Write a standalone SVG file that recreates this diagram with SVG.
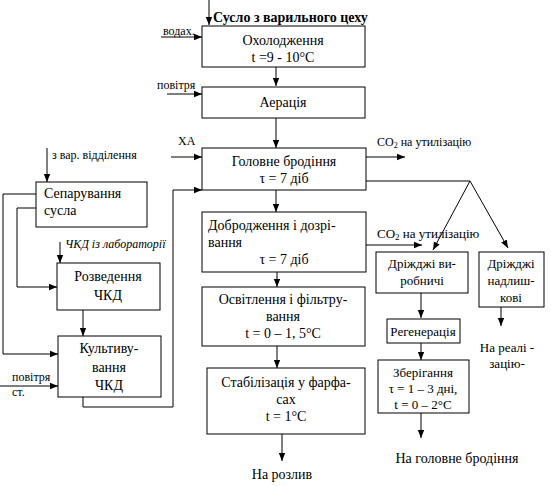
<svg xmlns="http://www.w3.org/2000/svg" width="551" height="486" viewBox="0 0 551 486">
<style>
.box{fill:#fff;stroke:#000;stroke-width:1}
.ln{fill:none;stroke:#000;stroke-width:1}
text{font-family:'Liberation Serif',serif;fill:#000}
.t{font-size:14px;text-anchor:middle}
.tl{font-size:14px}
.s{font-size:12px}
.m{font-size:13px;text-anchor:middle}
</style>
<defs>
<marker id="ah" viewBox="0 0 10 10" refX="10" refY="5" markerWidth="8" markerHeight="8" markerUnits="userSpaceOnUse" orient="auto">
<path d="M0,1 L10,5 L0,9 Z" fill="#000"/>
</marker>
</defs>
<rect width="551" height="486" fill="#fff"/>

<g id="connectors" class="ln">
<path d="M209,0 V25" marker-end="url(#ah)"/>
<path d="M161,37 H202" marker-end="url(#ah)"/>
<path d="M276,67 V86" marker-end="url(#ah)"/>
<path d="M167,94 H202" marker-end="url(#ah)"/>
<path d="M276,118 V148" marker-end="url(#ah)"/>
<path d="M171,157 H202" marker-end="url(#ah)"/>
<path d="M276,190 V212" marker-end="url(#ah)"/>
<path d="M277,272 V287" marker-end="url(#ah)"/>
<path d="M277,346 V368" marker-end="url(#ah)"/>
<path d="M282,434 V461" marker-end="url(#ah)"/>
<path d="M366,157 H405" marker-end="url(#ah)"/>
<path d="M366,181 H470"/>
<path d="M470,181 L433,250" marker-end="url(#ah)"/>
<path d="M470,181 L508,248" marker-end="url(#ah)"/>
<path d="M366,245 H422" marker-end="url(#ah)"/>
<path d="M421,293 V318" marker-end="url(#ah)"/>
<path d="M421,343 V360" marker-end="url(#ah)"/>
<path d="M421,413 V438" marker-end="url(#ah)"/>
<path d="M501,307 V326" marker-end="url(#ah)"/>
<path d="M47,148 V182" marker-end="url(#ah)"/>
<path d="M36,194 H3 V354 H58" marker-end="url(#ah)"/>
<path d="M36,208 H17 V287 H57" marker-end="url(#ah)"/>
<path d="M60,242 V263" marker-end="url(#ah)"/>
<path d="M83,310 V336" marker-end="url(#ah)"/>
<path d="M0,386 H58" marker-end="url(#ah)"/>
<path d="M83,397 V407 H173 V190 H202" marker-end="url(#ah)"/>
</g>

<g id="labels">
<text x="213" y="22" style="font-size:14px;font-weight:bold">Сусло з варильного цеху</text>
<text x="163" y="35" class="s">водах.</text>
<text x="157" y="89" class="s">повітря</text>
<text x="178" y="145" class="s">ХА</text>
<text x="377" y="146" class="s">CO<tspan font-size="8" dy="2">2</tspan><tspan dy="-2"> на утилізацію</tspan></text>
<text x="377" y="238" style="font-size:13px">CO<tspan font-size="9" dy="2">2</tspan><tspan dy="-2"> на утилізацію</tspan></text>
<text x="52" y="159" class="s">з вар. відділення</text>
<text x="65" y="248" class="s" font-style="italic">ЧКД із лабораторії</text>
<text x="12" y="381" class="s">повітря</text>
<text x="12" y="396" class="s">ст.</text>
<text x="282" y="479" class="t">На розлив</text>
<text x="457" y="463" class="t">На головне бродіння</text>
<text x="507" y="352" class="m">На реалі -</text>
<text x="507" y="368" class="m">зацію-</text>
</g>

<g id="n-cooling">
<rect class="box" x="202" y="26" width="163" height="41"/>
<text class="t" x="283" y="45">Охолодження</text>
<text class="t" x="283" y="62">t =9 - 10°C</text>
</g>
<g id="n-aeration">
<rect class="box" x="202" y="87" width="163" height="31"/>
<text class="t" x="283" y="107">Аерація</text>
</g>
<g id="n-main">
<rect class="box" x="202" y="148" width="164" height="42"/>
<text class="t" x="284" y="166">Головне бродіння</text>
<text class="t" x="284" y="183">τ = 7 діб</text>
</g>
<g id="n-after">
<rect class="box" x="202" y="212" width="164" height="60"/>
<text class="tl" x="208" y="230">Добродження і дозрі-</text>
<text class="tl" x="208" y="247">вання</text>
<text class="t" x="284" y="264">τ = 7 діб</text>
</g>
<g id="n-clarify">
<rect class="box" x="202" y="287" width="163" height="59"/>
<text class="t" x="283" y="304">Освітлення і фільтру-</text>
<text class="t" x="283" y="321">вання</text>
<text class="t" x="283" y="338">t = 0 – 1, 5°C</text>
</g>
<g id="n-stab">
<rect class="box" x="207" y="368" width="158" height="66"/>
<text class="t" x="286" y="387">Стабілізація у фарфа-</text>
<text class="t" x="286" y="404">сах</text>
<text class="t" x="286" y="421">t = 1°C</text>
</g>
<g id="n-yeast-prod">
<rect class="box" x="376" y="252" width="92" height="41"/>
<text class="m" x="422" y="268">Дріжджі ви-</text>
<text class="m" x="422" y="285">робничі</text>
</g>
<g id="n-yeast-excess">
<rect class="box" x="479" y="252" width="65" height="55"/>
<text class="m" x="511" y="268">Дріжджі</text>
<text class="m" x="511" y="285">надлиш-</text>
<text class="m" x="511" y="302">кові</text>
</g>
<g id="n-regen">
<rect class="box" x="387" y="319" width="73" height="24"/>
<text class="m" x="423" y="336">Регенерація</text>
</g>
<g id="n-storage">
<rect class="box" x="378" y="360" width="91" height="53"/>
<text class="m" x="423" y="377">Зберігання</text>
<text class="m" x="423" y="393">τ = 1 – 3 дні,</text>
<text class="m" x="423" y="409">t = 0 – 2°C</text>
</g>
<g id="n-separ">
<rect class="box" x="36" y="182" width="111" height="45"/>
<text class="tl" x="44" y="198">Сепарування</text>
<text class="tl" x="44" y="215">сусла</text>
</g>
<g id="n-dilute">
<rect class="box" x="57" y="263" width="103" height="47"/>
<text class="t" x="108" y="281">Розведення</text>
<text class="t" x="108" y="300">ЧКД</text>
</g>
<g id="n-cultiv">
<rect class="box" x="58" y="336" width="103" height="61"/>
<text class="t" x="109" y="353">Культиву-</text>
<text class="t" x="109" y="372">вання</text>
<text class="t" x="109" y="390">ЧКД</text>
</g>
</svg>
